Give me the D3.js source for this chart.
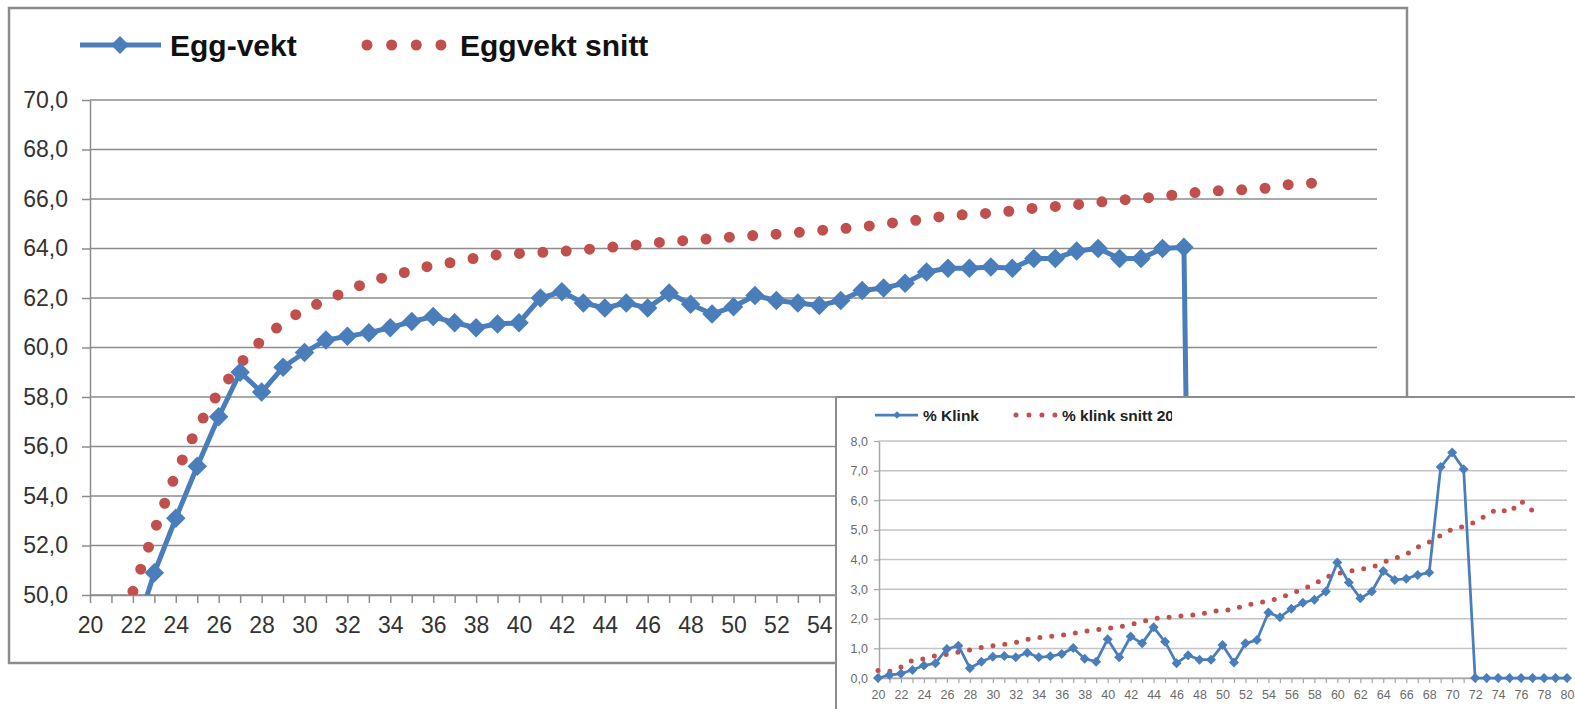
<!DOCTYPE html>
<html>
<head>
<meta charset="utf-8">
<script src="https://cdn.jsdelivr.net/npm/d3@7"></script>
<style>
  body { margin: 0; background: #fff; }
  text { font-family: "Liberation Sans", Arial, sans-serif; }
</style>
</head>
<body>
<div id="chart"></div>
<script>
// week numbers (category axis), shared by both charts
const weeks = [20, 21, 22, 23, 24, 25, 26, 27, 28, 29, 30, 31, 32, 33, 34, 35, 36, 37, 38, 39,
    40, 41, 42, 43, 44, 45, 46, 47, 48, 49, 50, 51, 52, 53, 54, 55, 56, 57, 58, 59,
    60, 61, 62, 63, 64, 65, 66, 67, 68, 69, 70, 71, 72, 73, 74, 75, 76, 77, 78, 79, 80];

// main chart: egg weight (g) per week, null = no value
const eggVekt = [null, null, 48.2, 50.9, 53.1, 55.2, 57.2, 59.0, 58.2, 59.2,
    59.8, 60.3, 60.45, 60.6, 60.8, 61.05, 61.25, 61.0, 60.8, 60.95,
    61.0, 62.0, 62.25, 61.8, 61.6, 61.8, 61.6, 62.2, 61.75, 61.35,
    61.65, 62.1, 61.9, 61.8, 61.7, 61.9, 62.3, 62.4, 62.6, 63.05,
    63.2, 63.2, 63.25, 63.2, 63.6, 63.6, 63.9, 64.0, 63.6, 63.6,
    64.0, 64.05, 0, null, null, null, null, null, null, null, null];

const eggSnitt = [null, null, 50.15, 52.6, 54.9, 56.75, 58.2, 59.35, 60.3, 61.0,
    61.55, 61.9, 62.3, 62.65, 62.9, 63.1, 63.33, 63.45, 63.62, 63.75,
    63.8, 63.84, 63.88, 63.95, 64.03, 64.1, 64.2, 64.28, 64.34, 64.4,
    64.47, 64.53, 64.58, 64.65, 64.73, 64.8, 64.87, 65.0, 65.08, 65.2,
    65.33, 65.38, 65.43, 65.52, 65.63, 65.7, 65.77, 65.87, 65.95, 66.03,
    66.1, 66.22, 66.3, 66.35, 66.38, 66.45, 66.6, 66.64, null, null, null];

// inset chart: % cracked eggs per week
const klink = [0.0, 0.1, 0.15, 0.27, 0.42, 0.5, 0.98, 1.09, 0.33, 0.55,
    0.72, 0.74, 0.7, 0.85, 0.7, 0.73, 0.81, 1.01, 0.65, 0.55,
    1.31, 0.7, 1.4, 1.17, 1.71, 1.22, 0.5, 0.77, 0.62, 0.62,
    1.11, 0.52, 1.17, 1.28, 2.21, 2.05, 2.34, 2.54, 2.64, 2.92,
    3.9, 3.22, 2.69, 2.92, 3.61, 3.31, 3.35, 3.48, 3.56, 7.12,
    7.61, 7.05, 0, 0, 0, 0, 0, 0, 0, 0, 0];

const klinkSnitt = [0.25, 0.22, 0.37, 0.6, 0.65, 0.75, 0.8, 0.87, 0.95, 1.03,
    1.09, 1.14, 1.2, 1.3, 1.36, 1.4, 1.44, 1.51, 1.58, 1.63,
    1.67, 1.73, 1.8, 1.9, 2.0, 2.04, 2.08, 2.12, 2.13, 2.25,
    2.28, 2.32, 2.46, 2.53, 2.6, 2.7, 2.86, 3.0, 3.17, 3.4,
    3.53, 3.6, 3.67, 3.73, 3.91, 4.04, 4.17, 4.42, 4.59, 4.81,
    5.02, 5.11, 5.26, 5.5, 5.72, 5.58, 5.97, 5.65, null, null, null];

const mainYTicks = [50, 52, 54, 56, 58, 60, 62, 64, 66, 68, 70];
const insetYTicks = [0, 1, 2, 3, 4, 5, 6, 7, 8];
const mainLegend = ["Egg-vekt", "Eggvekt snitt"];
const insetLegend = ["% Klink", "% klink snitt 20"];

const blue = "#4a7ebb";
const red = "#c0504d";
const fmt = d => d.toFixed(1).replace(".", ",");
const toPoints = vals => weeks.map((w, i) => ({ w: w, v: vals[i] }));

// round dots spread evenly along a path, so both ends get a dot
// (gap shortened a hair so the last dot is not lost to rounding)
const dotPath = (sel, step) => {
    const len = sel.node().getTotalLength();
    const n = Math.max(1, Math.round(len / step));
    sel.attr("stroke-linecap", "round").attr("stroke-dasharray", `0,${len / n - 0.02}`);
};

const svg = d3.select("#chart").append("svg").attr("width", 1575).attr("height", 709);
svg.append("rect").attr("width", 1575).attr("height", 709).attr("fill", "white");

// ---------- main chart ----------
const main = { left: 90, right: 1377, top: 100, bottom: 595 };
const insetEdge = 836; // left border of the inset that covers the main chart
const x = d3.scaleLinear().domain([20, 80]).range([main.left, main.right]);
const y = d3.scaleLinear().domain([50, 70]).range([main.bottom, main.top]);

svg.append("rect")
    .attr("x", 9).attr("y", 8).attr("width", 1398).attr("height", 655)
    .attr("fill", "white").attr("stroke", "#8c8c8c").attr("stroke-width", 2.5);

const mainG = svg.append("g");

mainG.selectAll("line.grid")
    .data(mainYTicks)
    .join("line")
    .attr("class", "grid")
    .attr("x1", main.left).attr("x2", main.right)
    .attr("y1", d => y(d)).attr("y2", d => y(d))
    .attr("stroke", "#8c8c8c").attr("stroke-width", 1.5);

const yAxisG = mainG.append("g")
    .attr("transform", `translate(${main.left},0)`)
    .call(d3.axisLeft(y).tickValues(mainYTicks).tickSize(8).tickSizeOuter(0).tickFormat(fmt));
yAxisG.selectAll("text").attr("x", -22).attr("font-size", 23).attr("fill", "#333");

// labels hidden behind the inset are left out
const xAxisG = mainG.append("g")
    .attr("transform", `translate(0,${main.bottom})`)
    .call(d3.axisBottom(x).tickValues(weeks).tickSize(8).tickSizeOuter(0)
        .tickFormat(d => (d % 2 === 0 && x(d) + 14 < insetEdge) ? d : ""));
xAxisG.selectAll("text").attr("y", 38).attr("dy", 0).attr("font-size", 23).attr("fill", "#333");

[yAxisG, xAxisG].forEach(g => {
    g.selectAll("line").attr("stroke", "#8c8c8c").attr("stroke-width", 1.5);
    g.select(".domain").attr("stroke", "#8c8c8c").attr("stroke-width", 1.5);
    g.selectAll("text").attr("font-family", "Liberation Sans, Arial, sans-serif");
});

svg.append("clipPath").attr("id", "mainClip")
    .append("rect")
    .attr("x", main.left).attr("y", main.top - 20)
    .attr("width", main.right - main.left).attr("height", main.bottom - main.top + 20);

const plotG = mainG.append("g").attr("clip-path", "url(#mainClip)");

const mainLine = d3.line().defined(d => d.v != null).x(d => x(d.w)).y(d => y(d.v));

// dotted average line (round dots along the path)
plotG.append("path")
    .datum(toPoints(eggSnitt))
    .attr("d", mainLine)
    .attr("fill", "none")
    .attr("stroke", red).attr("stroke-width", 11)
    .call(dotPath, 23.5);

plotG.append("path")
    .datum(toPoints(eggVekt))
    .attr("d", mainLine)
    .attr("fill", "none")
    .attr("stroke", blue).attr("stroke-width", 5)
    .attr("stroke-linejoin", "round");

plotG.selectAll("path.diamond")
    .data(toPoints(eggVekt).filter(d => d.v != null && d.v >= 50))
    .join("path")
    .attr("class", "diamond")
    .attr("d", d3.symbol(d3.symbolSquare, 190))
    .attr("transform", d => `translate(${x(d.w)},${y(d.v)}) rotate(45)`)
    .attr("fill", blue);

// main legend
const legG = svg.append("g");
legG.append("line").attr("x1", 80).attr("x2", 161).attr("y1", 45).attr("y2", 45)
    .attr("stroke", blue).attr("stroke-width", 5);
legG.append("path").attr("d", d3.symbol(d3.symbolSquare, 160))
    .attr("transform", "translate(120,45) rotate(45)").attr("fill", blue);
legG.append("text").attr("x", 170).attr("y", 56).text(mainLegend[0])
    .attr("font-size", 30).attr("font-weight", "bold").attr("fill", "#111");
legG.append("line").attr("x1", 367).attr("x2", 441).attr("y1", 45).attr("y2", 45)
    .attr("stroke", red).attr("stroke-width", 11)
    .call(dotPath, 24.7);
legG.append("text").attr("x", 460).attr("y", 56).text(mainLegend[1])
    .attr("font-size", 30).attr("font-weight", "bold").attr("fill", "#111");

// ---------- inset chart ----------
const inset = { left: 879, right: 1567, top: 441, bottom: 678 };
const x2 = d3.scaleLinear().domain([20, 80]).range([inset.left - 1, inset.right]);
const y2 = d3.scaleLinear().domain([0, 8]).range([inset.bottom, inset.top]);

svg.append("rect")
    .attr("x", insetEdge).attr("y", 397).attr("width", 760).attr("height", 330)
    .attr("fill", "white").attr("stroke", "#8c8c8c").attr("stroke-width", 2);

const insetG = svg.append("g");

insetG.selectAll("line.grid")
    .data(insetYTicks)
    .join("line")
    .attr("class", "grid")
    .attr("x1", inset.left).attr("x2", inset.right)
    .attr("y1", d => y2(d)).attr("y2", d => y2(d))
    .attr("stroke", "#c4c4c4").attr("stroke-width", 1.5);

const y2AxisG = insetG.append("g")
    .attr("transform", `translate(${inset.left},0)`)
    .call(d3.axisLeft(y2).tickValues(insetYTicks).tickSize(5).tickSizeOuter(0).tickFormat(fmt));
y2AxisG.selectAll("text").attr("x", -11).attr("font-size", 12.5).attr("fill", "#6b6b6b");

const x2AxisG = insetG.append("g")
    .attr("transform", `translate(0,${inset.bottom})`)
    .call(d3.axisBottom(x2).tickValues(weeks).tickSize(5).tickSizeOuter(0)
        .tickFormat(d => d % 2 === 0 ? d : ""));
x2AxisG.selectAll("text").attr("y", 20.5).attr("dy", 0).attr("font-size", 12.5).attr("fill", "#6b6b6b");

[y2AxisG, x2AxisG].forEach(g => {
    g.selectAll("line").attr("stroke", "#a6a6a6").attr("stroke-width", 1.2);
    g.select(".domain").attr("stroke", "#a6a6a6").attr("stroke-width", 1.5);
    g.selectAll("text").attr("font-family", "Liberation Sans, Arial, sans-serif");
});

const insetLine = d3.line().defined(d => d.v != null).x(d => x2(d.w)).y(d => y2(d.v));

insetG.append("path")
    .datum(toPoints(klinkSnitt))
    .attr("d", insetLine)
    .attr("fill", "none")
    .attr("stroke", red).attr("stroke-width", 5)
    .call(dotPath, 12);

insetG.append("path")
    .datum(toPoints(klink))
    .attr("d", insetLine)
    .attr("fill", "none")
    .attr("stroke", blue).attr("stroke-width", 2.75)
    .attr("stroke-linejoin", "round");

insetG.selectAll("path.diamond")
    .data(toPoints(klink))
    .join("path")
    .attr("class", "diamond")
    .attr("d", d3.symbol(d3.symbolSquare, 50))
    .attr("transform", d => `translate(${x2(d.w)},${y2(d.v)}) rotate(45)`)
    .attr("fill", blue);

// inset legend (the second label is cut off in the original)
svg.append("clipPath").attr("id", "legClip")
    .append("rect").attr("x", insetEdge).attr("y", 398).attr("width", 336).attr("height", 40);

const leg2 = svg.append("g").attr("clip-path", "url(#legClip)");
leg2.append("line").attr("x1", 875).attr("x2", 918).attr("y1", 415).attr("y2", 415)
    .attr("stroke", blue).attr("stroke-width", 2.75);
leg2.append("path").attr("d", d3.symbol(d3.symbolSquare, 30))
    .attr("transform", "translate(897,415) rotate(45)").attr("fill", blue);
leg2.append("text").attr("x", 923).attr("y", 421).text(insetLegend[0])
    .attr("font-size", 15.5).attr("font-weight", "bold").attr("fill", "#222");
leg2.append("line").attr("x1", 1016).attr("x2", 1055).attr("y1", 415).attr("y2", 415)
    .attr("stroke", red).attr("stroke-width", 5)
    .call(dotPath, 13);
leg2.append("text").attr("x", 1062).attr("y", 421).text(insetLegend[1])
    .attr("font-size", 15.5).attr("font-weight", "bold").attr("fill", "#222");
</script>
</body>
</html>
